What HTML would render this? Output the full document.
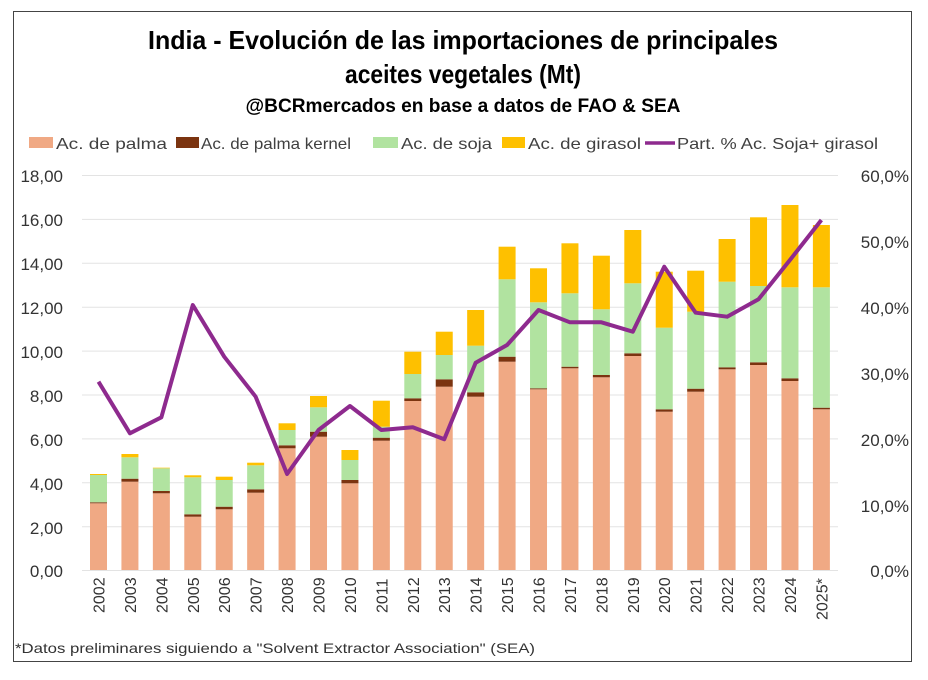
<!DOCTYPE html>
<html><head><meta charset="utf-8"><style>
html,body{margin:0;padding:0;background:#fff;}
svg{display:block;}
text{font-family:"Liberation Sans",sans-serif;}
</style></head><body>
<svg width="928" height="680" viewBox="0 0 928 680" xmlns="http://www.w3.org/2000/svg">
<rect x="0" y="0" width="928" height="680" fill="#fff"/>
<rect x="13.5" y="11.5" width="898" height="650" fill="none" stroke="#444" stroke-width="1"/>
<text x="463" y="49" font-size="26" font-weight="bold" text-anchor="middle" textLength="630" lengthAdjust="spacingAndGlyphs">India - Evolución de las importaciones de principales</text>
<text x="463" y="83" font-size="26" font-weight="bold" text-anchor="middle" textLength="236" lengthAdjust="spacingAndGlyphs">aceites vegetales (Mt)</text>
<text x="463" y="112" font-size="19" font-weight="bold" text-anchor="middle" textLength="435" lengthAdjust="spacingAndGlyphs">@BCRmercados en base a datos de FAO &amp; SEA</text>
<g font-size="16" fill="#404040">
<rect x="29" y="137" width="24" height="11" fill="#f0a984"/><text x="56" y="149" textLength="111" lengthAdjust="spacingAndGlyphs">Ac. de palma</text>
<rect x="176" y="137" width="23" height="11" fill="#7b3410"/><text x="201" y="149" textLength="150" lengthAdjust="spacingAndGlyphs">Ac. de palma kernel</text>
<rect x="373" y="137" width="25" height="11" fill="#b1e3a0"/><text x="401" y="149" textLength="91" lengthAdjust="spacingAndGlyphs">Ac. de soja</text>
<rect x="502" y="137" width="23" height="11" fill="#fec000"/><text x="528" y="149" textLength="113" lengthAdjust="spacingAndGlyphs">Ac. de girasol</text>
<line x1="645" y1="143" x2="675" y2="143" stroke="#8e2a8e" stroke-width="3.5"/><text x="677" y="149" textLength="201" lengthAdjust="spacingAndGlyphs">Part. % Ac. Soja+ girasol</text>
</g>
<g stroke="#e3e3e3" stroke-width="1">
<line x1="82" y1="175.5" x2="838" y2="175.5"/><line x1="82" y1="219.4" x2="838" y2="219.4"/><line x1="82" y1="263.3" x2="838" y2="263.3"/><line x1="82" y1="307.2" x2="838" y2="307.2"/><line x1="82" y1="351.1" x2="838" y2="351.1"/><line x1="82" y1="395" x2="838" y2="395"/><line x1="82" y1="438.9" x2="838" y2="438.9"/><line x1="82" y1="482.8" x2="838" y2="482.8"/><line x1="82" y1="526.7" x2="838" y2="526.7"/><line x1="82" y1="570.5" x2="838" y2="570.5"/>
</g>
<g font-size="17" fill="#333" text-anchor="end">
<text x="63" y="182">18,00</text><text x="63" y="226">16,00</text><text x="63" y="270">14,00</text><text x="63" y="314">12,00</text><text x="63" y="358">10,00</text><text x="63" y="402">8,00</text><text x="63" y="446">6,00</text><text x="63" y="490">4,00</text><text x="63" y="534">2,00</text><text x="63" y="577">0,00</text>
<text x="909" y="182">60,0%</text><text x="909" y="248">50,0%</text><text x="909" y="314">40,0%</text><text x="909" y="380">30,0%</text><text x="909" y="446">20,0%</text><text x="909" y="512">10,0%</text><text x="909" y="577">0,0%</text>
</g>
<g id="bars"></g>
<g id="years" font-size="16" fill="#333"></g>
<polyline id="line" fill="none" stroke="#8e2a8e" stroke-width="4" stroke-linejoin="round" points=""/>
<text x="15" y="653" font-size="14" fill="#333" textLength="520" lengthAdjust="spacingAndGlyphs">*Datos preliminares siguiendo a "Solvent Extractor Association" (SEA)</text>
</svg>
<script>
var d=[[503.3,502.3,475,474],[481.7,478.7,457.3,454],[493.3,491,468.3,467.7],[516.7,514.3,477.3,475.3],[509.3,506.7,480,476.7],[492.7,489.3,465.3,462.7],[448.3,445.3,430,423.3],[436.7,431.7,407.3,396],[483.3,480,460,450],[440.7,437.7,426.7,400.7],[401,398.3,374,351.7],[386.7,379.3,355,331.7],[396.7,392.3,345.7,310],[361.7,356.7,279.3,246.7],[389.3,388.3,302.3,268.3],[368.3,366.7,293.3,243.3],[377.3,375,309.3,255.7],[356,353.3,283.3,230],[411.7,409.3,327.7,271.7],[391.7,388.7,311.7,270.7],[369.3,367.3,281.7,239],[365,362.3,286,217.3],[381,378.3,287.3,205],[409.3,407.7,287.3,225]];
var ln=[381.7,433.3,417.3,305,356.7,396.7,474,430,406,430,427.3,439.3,362.7,345,310,322.3,322.3,331.7,266.7,312.7,316.7,299.3,260,220];
var cols=["#f0a984","#7b3410","#b1e3a0","#fec000"];
var ns="http://www.w3.org/2000/svg",g=document.getElementById("bars"),yg=document.getElementById("years"),pts=[];
for(var i=0;i<24;i++){var cx=98.5+i*31.43,prev=570;
for(var k=0;k<4;k++){var t=d[i][k];if(prev-t>0){var r=document.createElementNS(ns,"rect");r.setAttribute("x",cx-8.5);r.setAttribute("width",17);r.setAttribute("y",t);r.setAttribute("height",prev-t);r.setAttribute("fill",cols[k]);g.appendChild(r);}prev=t;}
var tx=document.createElementNS(ns,"text");tx.setAttribute("transform","translate("+(cx+6)+","+(i==23?620:613)+") rotate(-90)");tx.textContent=2002+i+(i==23?"*":"");yg.appendChild(tx);
pts.push(cx+","+ln[i]);}
document.getElementById("line").setAttribute("points",pts.join(" "));
</script>
</body></html>
